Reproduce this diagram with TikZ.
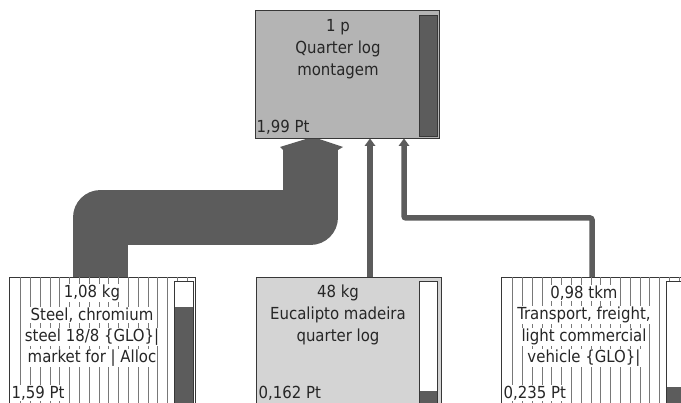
\documentclass[tikz,border=0pt]{standalone}
\usepackage{fontspec}
\setmainfont{DejaVu Sans Condensed}
\definecolor{topfill}{RGB}{180,180,180}
\definecolor{midfill}{RGB}{212,212,212}
\definecolor{dark}{RGB}{92,92,92}
\definecolor{edge}{RGB}{55,55,55}
\definecolor{hatch}{RGB}{120,120,120}
\begin{document}
\begin{tikzpicture}[x=1pt,y=-1pt,
  box/.style={draw=edge,line width=0.9pt,rectangle,inner sep=0pt,outer sep=0pt,anchor=north west},
  bar/.style={draw=edge,line width=0.9pt},
  txt/.style={inner sep=0.6pt,outer sep=0pt,text=black!85,font=\fontsize{16.6}{18}\selectfont},
  wtxt/.style={txt,fill=white},
  conn/.style={draw=dark,line width=5.5pt},
  tip/.style={fill=dark}]
\useasboundingbox (0,0) rectangle (681,403);
\clip (0,0) rectangle (681,403);

% top box
\node[box,fill=topfill,minimum width=184pt,minimum height=128pt] (top) at (255,10) {};
\draw[bar,fill=dark] (419,15) rectangle (437,136);
\node[txt] (t1) at (338,27) {1 p};
\node[txt] (t2) at (338,49) {Quarter log};
\node[txt] (t3) at (338,71) {montagem};
\node[txt,anchor=west] (t4) at (256,127) {1,99 Pt};

% left box
\node[box,fill=white,minimum width=186pt,minimum height=140pt] (left) at (9,277) {};
\begin{scope}
\clip (9,277) rectangle (195,420);
\foreach \i in {0,...,17} { \draw[hatch,line width=0.7pt] (20.5+9.8*\i,277) -- (20.5+9.8*\i,420); }
\end{scope}
\draw[bar,fill=white] (174,281) rectangle (193,420);
\fill[dark] (174,307) rectangle (193,420);
\draw[bar] (174,281) rectangle (193,420);
\node[wtxt] (l1) at (92,293) {1,08 kg};
\node[wtxt] (l2) at (92,315) {Steel, chromium};
\node[wtxt] (l3) at (92,337) {steel 18/8 \{GLO\}|};
\node[wtxt] (l4) at (92,358) {market for | Alloc};
\node[wtxt,anchor=west] (l5) at (11,393) {1,59 Pt};

% middle box
\node[box,fill=midfill,minimum width=185pt,minimum height=140pt] (mid) at (256,277) {};
\draw[bar,fill=white] (419,281) rectangle (437,420);
\fill[dark] (419,391) rectangle (437,420);
\draw[bar] (419,281) rectangle (437,420);
\node[txt] (m1) at (338,293) {48 kg};
\node[txt] (m2) at (338,315) {Eucalipto madeira};
\node[txt] (m3) at (338,337) {quarter log};
\node[txt,anchor=west] (m4) at (258,393) {0,162 Pt};

% right box
\node[box,fill=white,minimum width=200pt,minimum height=140pt] (right) at (501,277) {};
\begin{scope}
\clip (501,277) rectangle (701,420);
\foreach \i in {0,...,19} { \draw[hatch,line width=0.7pt] (512.5+9.8*\i,277) -- (512.5+9.8*\i,420); }
\end{scope}
\draw[bar,fill=white] (666,281) rectangle (690,420);
\fill[dark] (666,387) rectangle (690,420);
\draw[bar] (666,281) rectangle (690,420);
\node[wtxt] (r1) at (584,293) {0,98 tkm};
\node[wtxt] (r2) at (584,315) {Transport, freight,};
\node[wtxt] (r3) at (584,337) {light commercial};
\node[wtxt] (r4) at (584,358) {vehicle \{GLO\}|};
\node[wtxt,anchor=west] (r5) at (503,393) {0,235 Pt};

% big pipe connector
\draw[dark,line width=55pt,line join=round] (100.5,0 |- left.north) -- (100.5,217.5) -- (310.5,217.5) -- (310.5,149);
\fill[dark] (283,150) -- (280,147) -- (306,139) -- (319,139) -- (343,147) -- (338,150) -- cycle;

% middle connector
\draw[conn] (370,0 |- mid.north) -- (370,145);
\fill[tip] (364.5,146) -- (370,138.5) -- (375.5,146) -- cycle;

% right connector
\draw[conn,rounded corners=2pt] (592,0 |- right.north) -- (592,218) -- (404,218) -- (404,145);
\fill[tip] (398.5,146) -- (404,138.5) -- (409.5,146) -- cycle;
\end{tikzpicture}
\end{document}
